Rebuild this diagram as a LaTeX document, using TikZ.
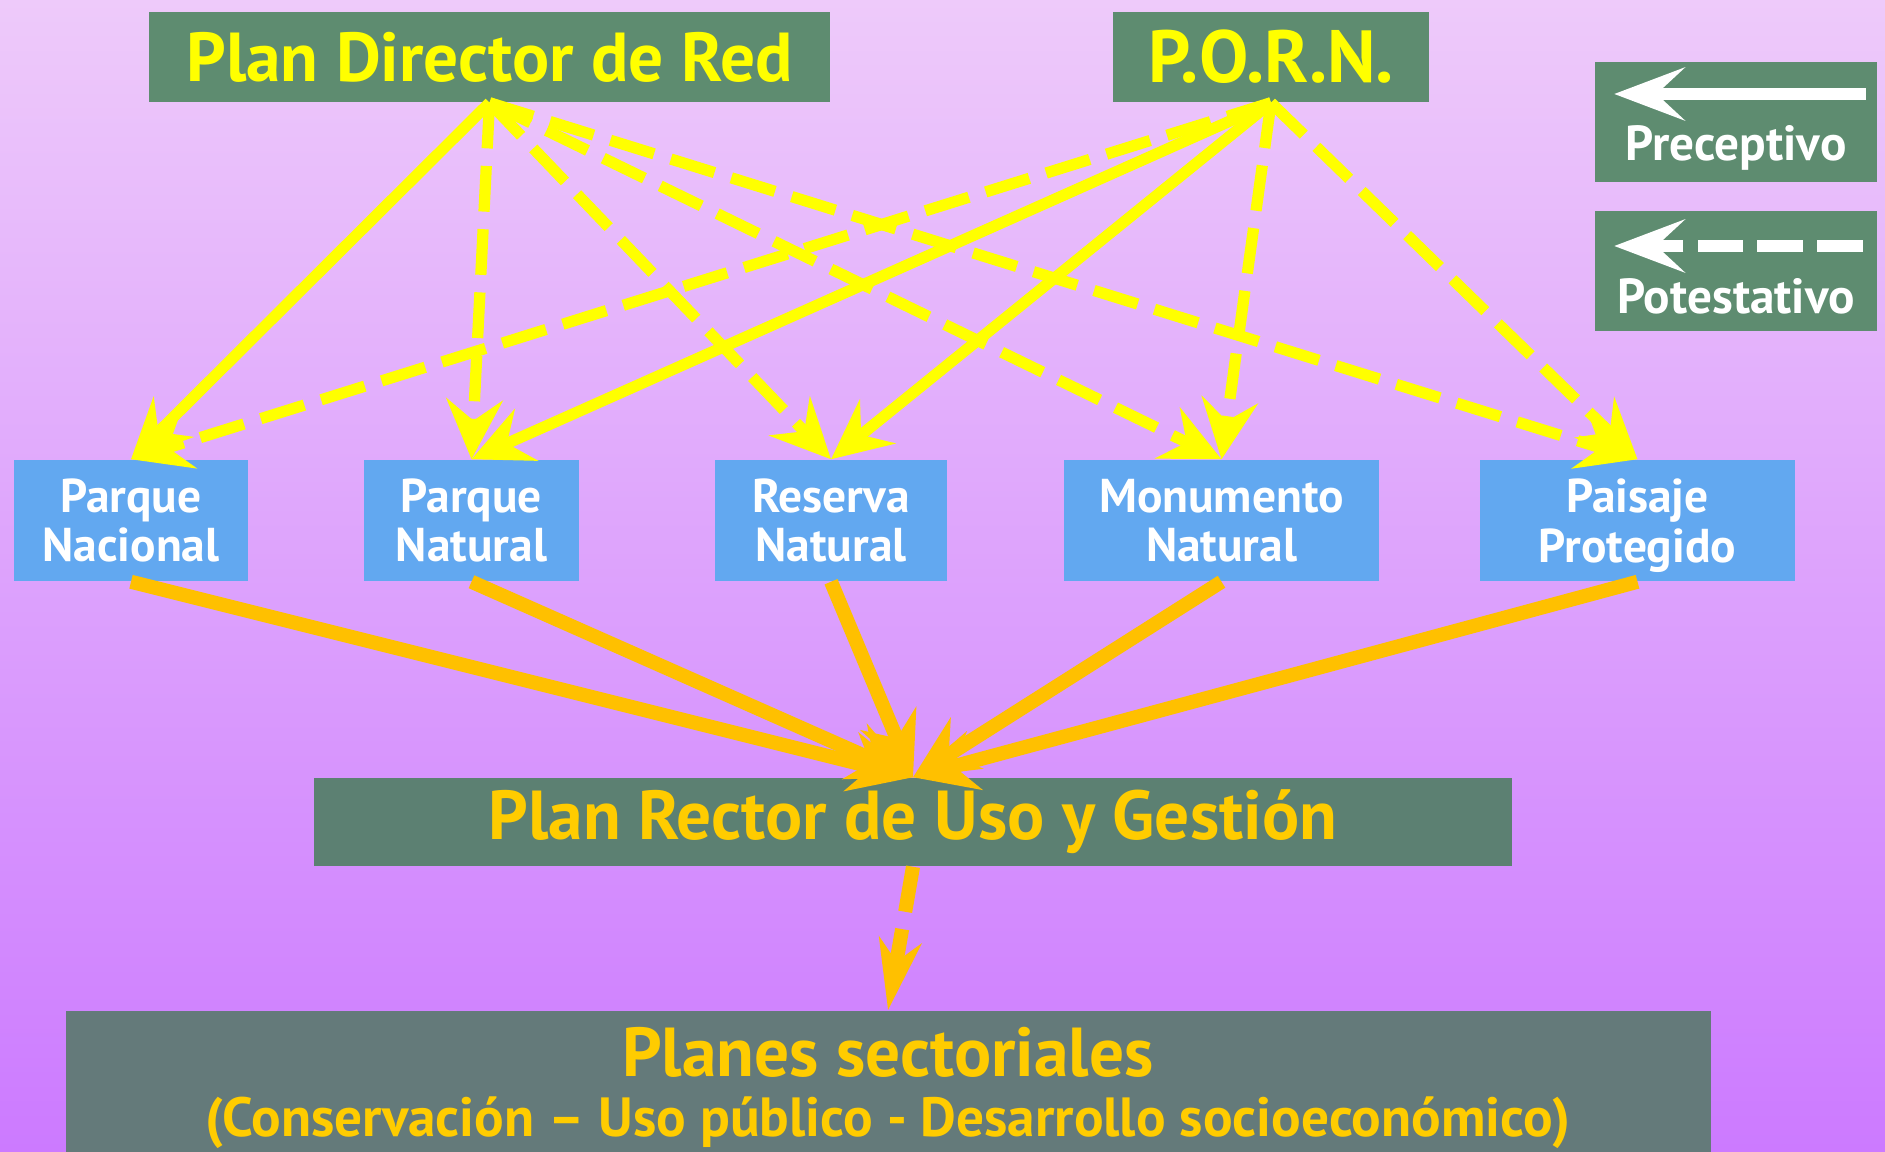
\documentclass[tikz,border=0pt]{standalone}
\usepackage{fontspec}
\setmainfont{PT Sans}
\usetikzlibrary{arrows.meta}
\definecolor{fondoA}{RGB}{238,202,250}
\definecolor{fondoB}{RGB}{226,172,252}
\definecolor{fondoC}{RGB}{204,122,255}
\definecolor{verde}{RGB}{94,140,112}
\definecolor{verdegris}{RGB}{92,128,114}
\definecolor{gris}{RGB}{100,122,122}
\definecolor{azul}{RGB}{98,168,240}
\definecolor{amarillo}{RGB}{255,255,0}
\definecolor{naranja}{RGB}{255,192,0}
\definecolor{oro}{RGB}{255,204,0}
\begin{document}
\begin{tikzpicture}[x=0.01cm,y=-0.01cm]
  \tikzstyle{every node}=[inner sep=0pt,font=\bfseries]
  \tikzstyle{plan}=[fill=verde,text=amarillo,minimum height=0.9cm,font=\bfseries\fontsize{19.7}{22}\selectfont]
  \tikzstyle{figura}=[fill=azul,text=white,minimum height=1.21cm,align=center,font=\bfseries\fontsize{13.5}{14}\selectfont]
  \tikzstyle{leyenda}=[fill=verde,minimum width=2.82cm,minimum height=1.19cm]
  \tikzstyle{leytexto}=[text=white,font=\bfseries\fontsize{14}{16}\selectfont]
  \tikzstyle{preceptivo}=[amarillo,line width=3.2pt,-{Stealth[length=17pt,width=16pt,inset=6pt]}]
  \tikzstyle{potestativo}=[preceptivo,dash pattern=on 13pt off 5pt]
  \tikzstyle{rector}=[naranja,line width=4pt,-{Stealth[length=18pt,width=17pt,inset=6pt]}]
  \tikzstyle{blanca}=[white,line width=3.4pt,-{Stealth[length=20pt,width=15pt,inset=8pt]}]
  \clip (0,0) rectangle (1885,1151);
  \shade[top color=fondoA,middle color=fondoB,bottom color=fondoC] (0,0) rectangle (1885,1151);
  \node[plan,minimum width=6.81cm] (pdr)  at (489.5,57) {Plan Director de Red};
  \node[plan,minimum width=3.16cm,font=\bfseries\fontsize{21}{24}\selectfont] (porn) at (1271,57) {P.O.R.N.};
  \node[leyenda] (leg1) at (1736,122) {};
  \node[leyenda] (leg2) at (1736,271) {};
  \node[leytexto] (t1) at (1736,148) {Preceptivo};
  \node[leytexto] (t2) at (1736,296) {Potestativo};
  \draw[blanca] ([xshift=-0.12cm,yshift=0.28cm]leg1.east) -- ([xshift=0.2cm,yshift=0.28cm]leg1.west);
  \draw[blanca,dash pattern=on 13pt off 4pt] ([xshift=-0.15cm,yshift=0.25cm]leg2.east) -- ([xshift=0.2cm,yshift=0.25cm]leg2.west);
  \node[figura,minimum width=2.34cm] (pn)   at (131,520.5)  {Parque\\Nacional};
  \node[figura,minimum width=2.15cm] (pnat) at (471.5,520.5) {Parque\\Natural};
  \node[figura,minimum width=2.32cm] (rn)   at (831,520.5)  {Reserva\\Natural};
  \node[figura,minimum width=3.15cm] (mn)   at (1221.5,520.5) {Monumento\\Natural};
  \node[figura,minimum width=3.15cm] (pp)   at (1637.5,520.5) {Paisaje\\\smash{Protegido}};
  \node[plan,fill=verdegris,text=oro,minimum width=11.98cm,minimum height=0.88cm] (prug) at (913,822) {Plan Rector de Uso y Gestión};
  \node[fill=gris,text=oro,minimum width=16.44cm,minimum height=1.54cm,align=center] (ps) at (888,1088)
    {{\fontsize{19.7}{22}\selectfont Planes sectoriales}\\[5pt]{\fontsize{15.7}{18}\selectfont (Conservación – Uso público - Desarrollo socioeconómico)}};
  \draw[preceptivo]  (pdr.south) -- (pn.north);
  \draw[potestativo] (pdr.south) -- (pnat.north);
  \draw[potestativo] (pdr.south) -- (rn.north);
  \draw[potestativo] (pdr.south) -- (mn.north);
  \draw[potestativo] (pdr.south) -- (pp.north);
  \draw[potestativo] (porn.south) -- (pn.north);
  \draw[preceptivo]  (porn.south) -- (pnat.north);
  \draw[preceptivo]  (porn.south) -- (rn.north);
  \draw[potestativo] (porn.south) -- (mn.north);
  \draw[potestativo] (porn.south) -- (pp.north);
  \foreach \n in {pn,pnat,rn,mn,pp}
    \draw[rector] (\n.south) -- (prug.north);
  \draw[rector,dash pattern=on 13pt off 5pt,-{Stealth[length=20pt,width=12pt,inset=6pt]}] (prug.south) -- (ps.north);
\end{tikzpicture}
\end{document}
